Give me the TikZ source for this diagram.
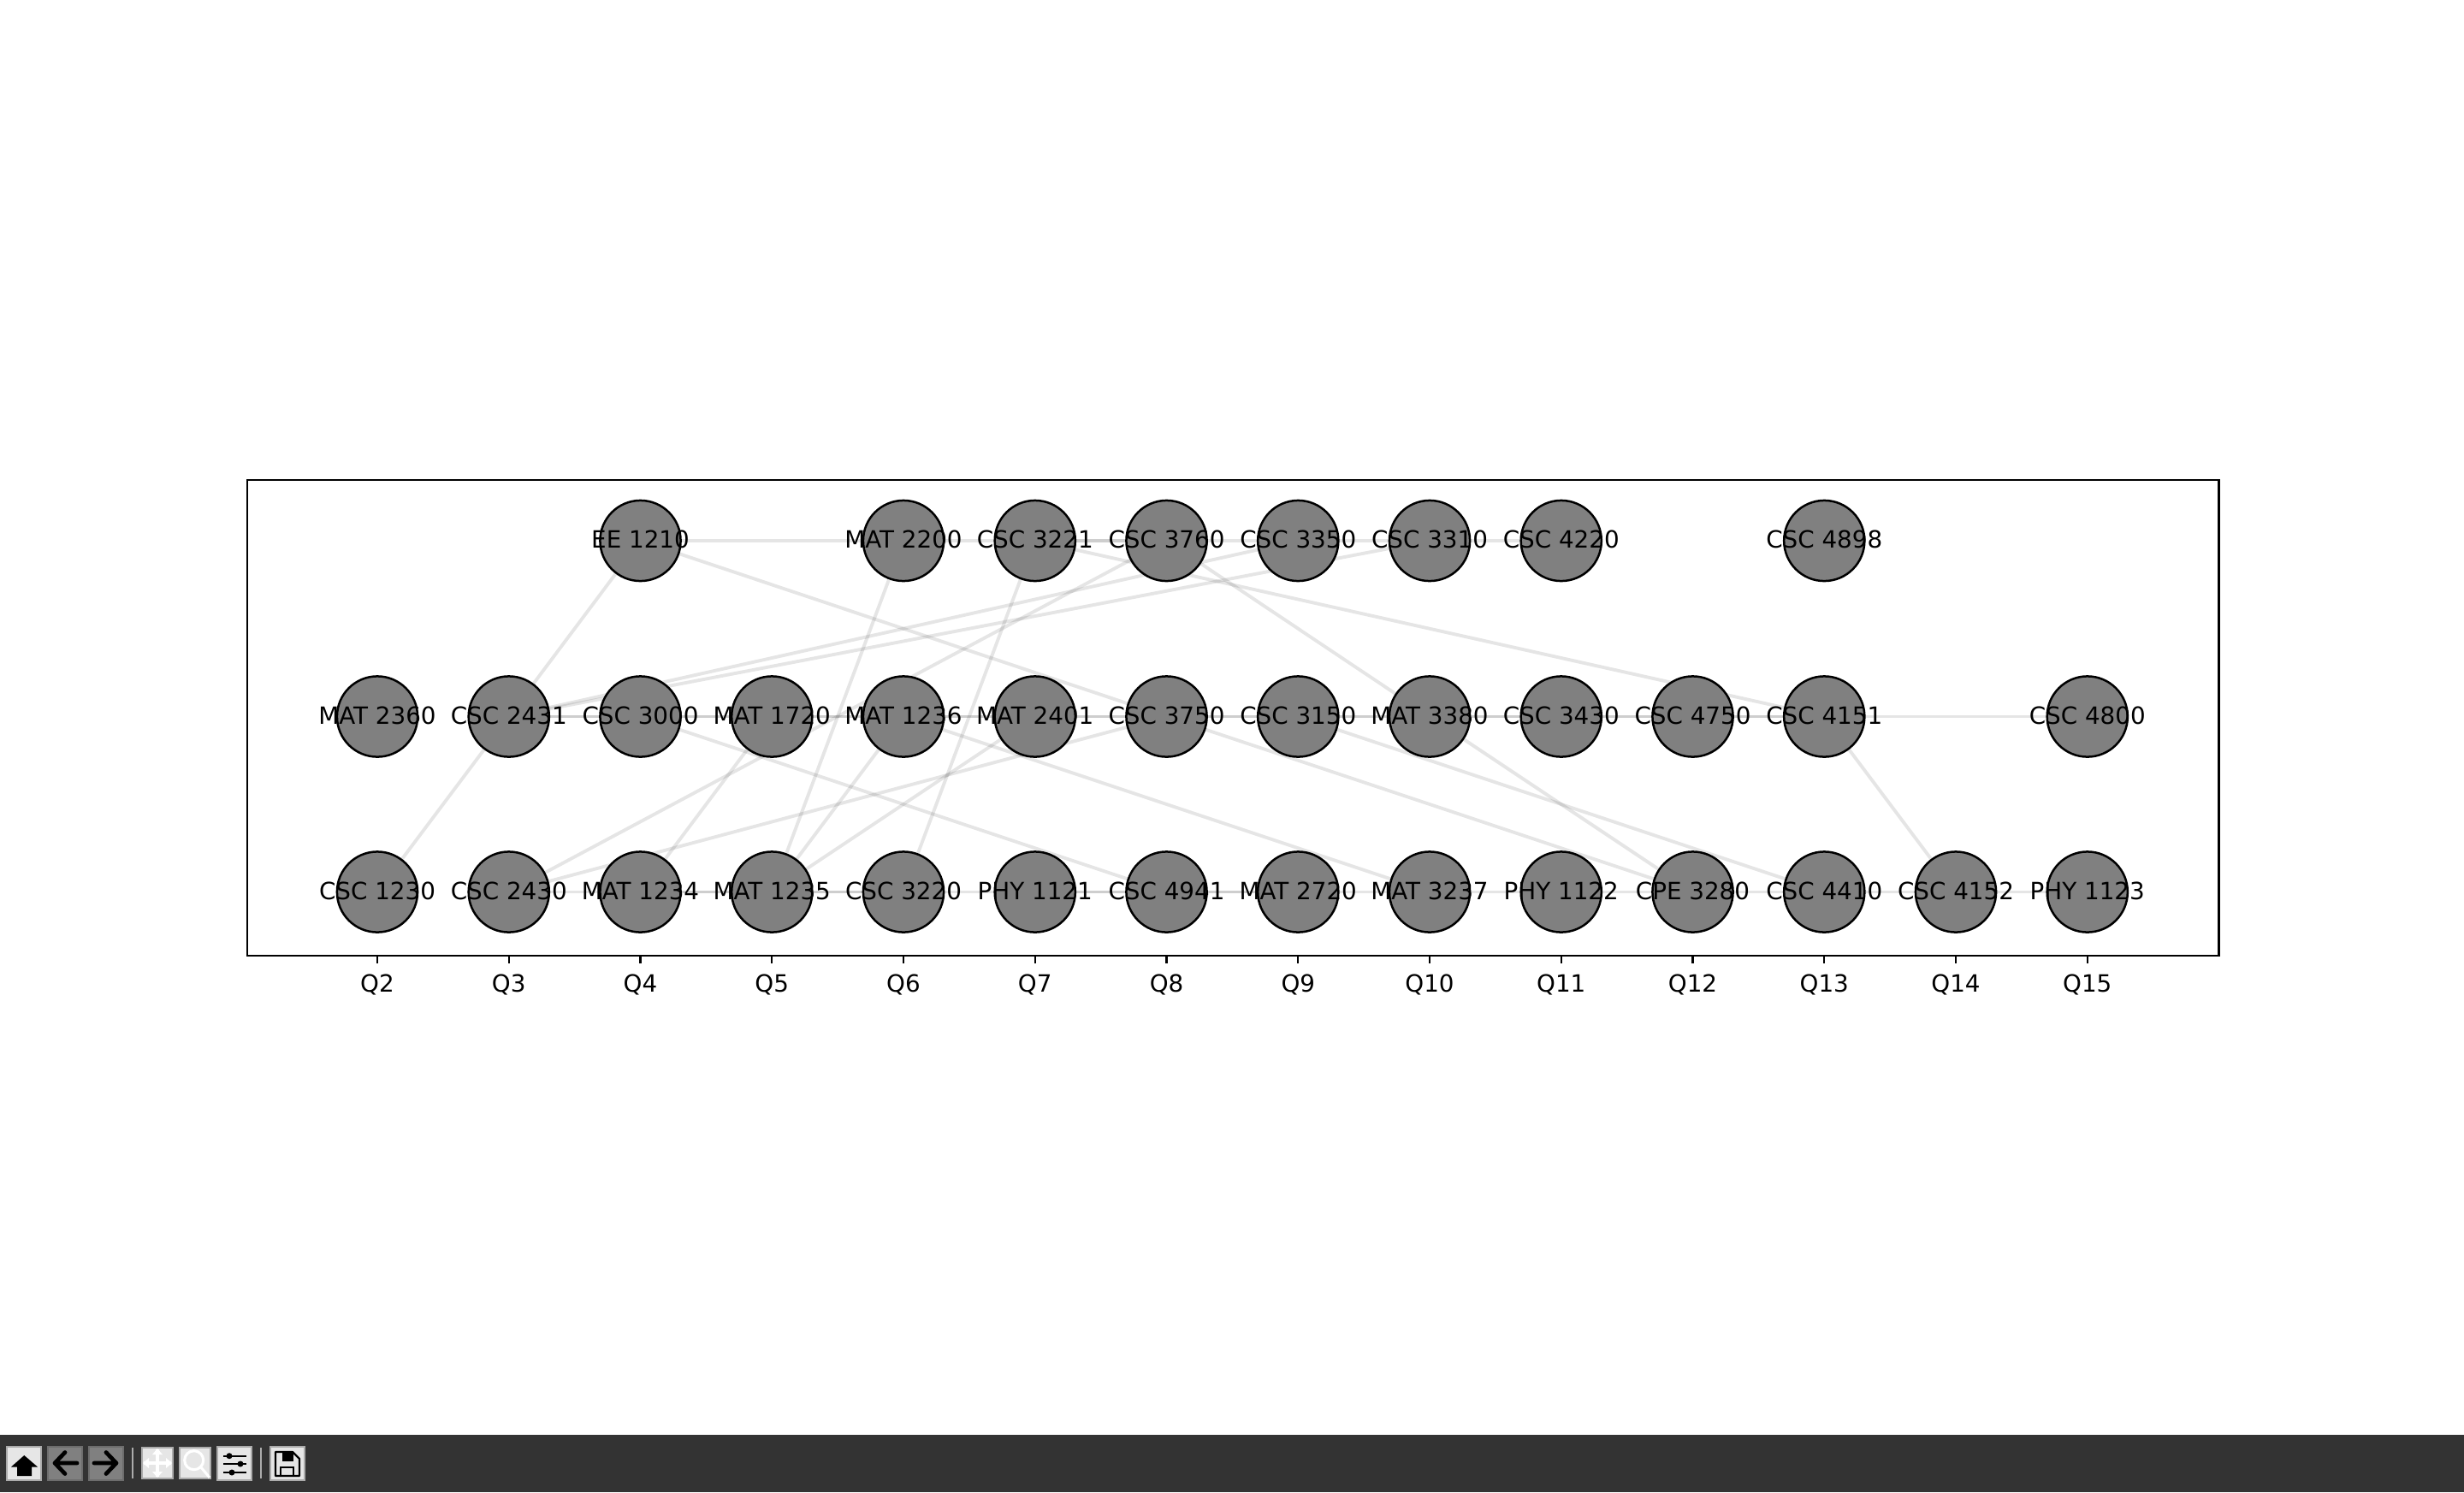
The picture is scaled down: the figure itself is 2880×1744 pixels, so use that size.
\documentclass[tikz,border=0pt]{standalone}
\usepackage{fontspec}
\setmainfont{DejaVu Sans}
\usetikzlibrary{backgrounds}

\definecolor{coursegray}{HTML}{808080}
\definecolor{barcolor}{HTML}{333333}
\definecolor{btnlight}{HTML}{E6E6E6}
\definecolor{btnedge}{HTML}{ABABAB}

\tikzset{
	course/.style={circle,draw=black,fill=coursegray,line width=0.9bp,minimum size=33.9bp,inner sep=0pt},
	coursename/.style={inner sep=0pt,font=\fontsize{10bp}{12bp}\selectfont,text=black},
	quarter/.style={inner sep=0pt,font=\fontsize{10bp}{12bp}\selectfont,text=black},
	prereq/.style={black,opacity=0.1,line width=1.4bp},
	toolbtn/.style={fill=btnlight,draw=btnedge,line width=0.8bp},
	toolgrey/.style={fill=coursegray,draw=coursegray!85!black,line width=0.8bp}
}

\begin{document}
\begin{tikzpicture}[x=0.36bp,y=-0.36bp]
	\useasboundingbox (0,0) rectangle (2880,1744);

	% top row
	\foreach \q/\name in {4/EE 1210,6/MAT 2200,7/CSC 3221,8/CSC 3760,9/CSC 3350,10/CSC 3310,11/CSC 4220,13/CSC 4898}{
		\pgfmathsetmacro{\px}{441+(\q-2)*153.75}
		\node[course] (t\q) at (\px,632) {};
		\node[coursename] (tn\q) at (\px,630.5) {\name};
	}

	% middle row
	\foreach \q/\name in {2/MAT 2360,3/CSC 2431,4/CSC 3000,5/MAT 1720,6/MAT 1236,7/MAT 2401,8/CSC 3750,9/CSC 3150,10/MAT 3380,11/CSC 3430,12/CSC 4750,13/CSC 4151,15/CSC 4800}{
		\pgfmathsetmacro{\px}{441+(\q-2)*153.75}
		\node[course] (m\q) at (\px,837.5) {};
		\node[coursename] (mn\q) at (\px,836) {\name};
	}

	% bottom row
	\foreach \q/\name in {2/CSC 1230,3/CSC 2430,4/MAT 1234,5/MAT 1235,6/CSC 3220,7/PHY 1121,8/CSC 4941,9/MAT 2720,10/MAT 3237,11/PHY 1122,12/CPE 3280,13/CSC 4410,14/CSC 4152,15/PHY 1123}{
		\pgfmathsetmacro{\px}{441+(\q-2)*153.75}
		\node[course] (b\q) at (\px,1042.5) {};
		\node[coursename] (bn\q) at (\px,1041) {\name};
	}

	\begin{pgfonlayer}{background}
		% along the rows
		\foreach \a/\b in {t4/t6,t6/t7,t7/t8,t7/t8,t8/t9,t9/t10,t10/t11}
			\draw[prereq] (\a) -- (\b);
		\foreach \a/\b in {m3/m4,m4/m5,m5/m6,m6/m7,m7/m8,m8/m9,m9/m10,m10/m11,m11/m12,m12/m13,m13/m15,m3/m13}
			\draw[prereq] (\a) -- (\b);
		\foreach \a/\b in {b3/b4,b4/b5,b5/b6,b6/b7,b7/b8,b8/b9,b9/b10,b10/b11,b11/b12,b12/b13,b13/b14,b14/b15,b4/b6,b7/b9}
			\draw[prereq] (\a) -- (\b);

		% between the rows
		\foreach \a/\b in {b2/m3,m3/t4,t4/m8,t6/b5,t7/b6,t7/m13,t8/m10,b3/t8,m3/t9,m3/t10,m4/b8,m6/b10,m8/b12,m9/b13,m10/b12,m13/b14,b4/m5,b3/m8,b5/m6,b5/m7}
			\draw[prereq] (\a) -- (\b);
	\end{pgfonlayer}

	% frame and ticks
	\draw[black,line width=0.8bp] (288.7,561) rectangle (2593.4,1116.7);
	\foreach \q in {2,...,15}{
		\pgfmathsetmacro{\px}{441+(\q-2)*153.75}
		\draw[black,line width=0.8bp] (\px,1116.7) -- ++(0,9.7);
		\node[quarter] (q\q) at (\px,1150.7) {Q\q};
	}

	% toolbar
	\fill[barcolor] (0,1677) rectangle (2880,1744);
	\draw[toolbtn] (8,1691) rectangle (48,1730);
	\fill[black] (28.3,1701) -- (44,1714.5) -- (37,1714.5) -- (37,1725) -- (20,1725) -- (20,1714.5) -- (13,1714.5) -- cycle;
	\draw[toolgrey] (56,1691) rectangle (96,1730);
	\draw[black,line width=1.7bp,line cap=round,line join=round] (90,1710) -- (64,1710) (76,1697.5) -- (64,1710) -- (76,1722.5);
	\draw[toolgrey] (104,1691) rectangle (144,1730);
	\draw[black,line width=1.7bp,line cap=round,line join=round] (110,1710) -- (136,1710) (124,1697.5) -- (136,1710) -- (124,1722.5);
	\draw[btnedge,line width=0.8bp] (155,1692) -- (155,1728);
	\draw[toolbtn] (166,1692) rectangle (202,1728);
	\draw[white,line width=1.2bp] (168,1710) -- (200,1710) (184,1694) -- (184,1726);
	\fill[white] (184,1693) -- (178,1700) -- (190,1700) -- cycle (184,1727) -- (178,1720) -- (190,1720) -- cycle (167,1710) -- (174,1704) -- (174,1716) -- cycle (201,1710) -- (194,1704) -- (194,1716) -- cycle;
	\draw[toolbtn] (210,1692) rectangle (246,1728);
	\draw[white,line width=1.1bp] (226.7,1706.7) circle (11);
	\draw[white,line width=1.1bp] (235,1715) -- (245,1727);
	\draw[toolbtn] (254,1691) rectangle (294,1730);
	\draw[black,line width=0.6bp] (261,1701.7) -- (288,1701.7) (261,1711) -- (288,1711) (261,1721) -- (288,1721);
	\fill[black] (268,1701.7) circle (3.5) (281,1711) circle (3.5) (271,1721) circle (3.5);
	\draw[btnedge,line width=0.8bp] (305,1692) -- (305,1728);
	\draw[toolbtn] (316,1691) rectangle (356,1730);
	\draw[black,line width=0.8bp,line join=round] (322,1697) -- (342,1697) -- (350,1705) -- (350,1725) -- (322,1725) -- cycle;
	\fill[black] (330,1697) rectangle (343,1708);
	\draw[black,line width=0.8bp] (328,1725) -- (328,1715) -- (343,1715) -- (343,1725);
\end{tikzpicture}
\end{document}
